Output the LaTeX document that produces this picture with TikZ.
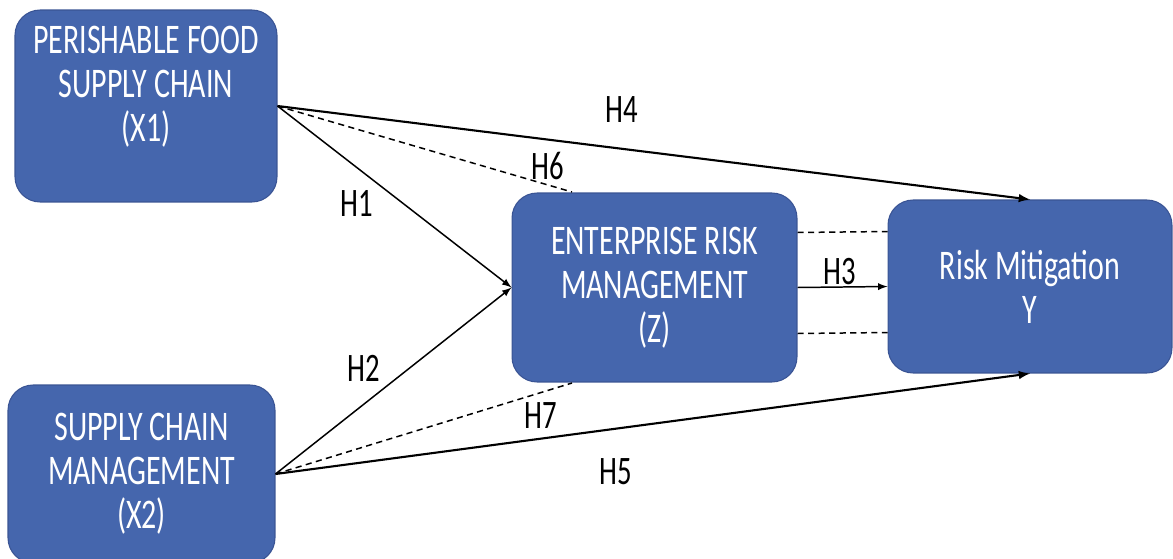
\documentclass[tikz,border=0pt]{standalone}
\usepackage{fontspec}
\setmainfont{Carlito}[FakeStretch=0.71]
\usepackage{tikz}
\usetikzlibrary{arrows, calc}
\usetikzlibrary{positioning}

\definecolor{boxblue}{RGB}{69,102,173}
\definecolor{boxline}{RGB}{58,84,148}

\tikzset{
  var/.style={draw=boxline, fill=boxblue, line width=0.6pt, rounded corners=0.5cm,
    text=white, align=center, font=\fontsize{24}{25}\selectfont},
  hyp/.style={font=\fontsize{23}{25}\selectfont},
  strong/.style={-latex, line width=1.2pt},
  weak/.style={-latex, line width=0.85pt},
  corr/.style={dashed, dash pattern=on 3.5pt off 2.5pt, line width=0.85pt}
}

\begin{document}
\begin{tikzpicture}[x=0.02cm, y=-0.02cm]
                    \useasboundingbox (0,0) rectangle (1173,558);
                    % constructs
                    \node[var, minimum width=5.24cm, minimum height=3.84cm] (x1) at (146,106) {};
                    \node[text=white, align=center, font=\fontsize{24}{25}\selectfont] (x1txt) at (146,87) {PERISHABLE FOOD\\SUPPLY CHAIN\\(X1)};
                    \node[var, minimum width=5.34cm, minimum height=3.56cm] (x2) at (141.5,474) {SUPPLY CHAIN\\MANAGEMENT\\(X2)};
                    \node[var, minimum width=5.7cm, minimum height=3.78cm] (z) at (654.5,287.5) {ENTERPRISE RISK\\MANAGEMENT\\(Z)};
                    \node[var, minimum width=5.68cm, minimum height=3.46cm] (y) at (1030,286.5) {Risk Mitigation\\Y};
                    \coordinate (h6end) at (572,192);
                    \coordinate (h7end) at (572,383);
                    % paths
                    \draw[strong] (x1.east) -- (y.north);
                    \draw[weak] (x1.east) -- (z.west);
                    \draw[corr] (x1.east) -- (h6end);
                    \draw[weak] (x2.east) -- (z.west);
                    \draw[corr] (x2.east) -- (h7end);
                    \draw[strong] (x2.east) -- (y.south);
                    \draw[weak] (z.east) -- (y.west);
                    \draw[corr] ($(z.east)+(0,-55)$) -- ($(y.west)+(0,-55)$);
                    \draw[corr] ($(z.east)+(0,46)$) -- ($(y.west)+(0,46)$);
                    % hypotheses
                    \node[hyp] (h1) at (357,203) {H1};
                    \node[hyp] (h2) at (364,368) {H2};
                    \node[hyp] (h3) at (840,272) {H3};
                    \node[hyp] (h4) at (622,110) {H4};
                    \node[hyp] (h5) at (616,472) {H5};
                    \node[hyp] (h6) at (548,166) {H6};
                    \node[hyp] (h7) at (541,416) {H7};
                \end{tikzpicture}
\end{document}
